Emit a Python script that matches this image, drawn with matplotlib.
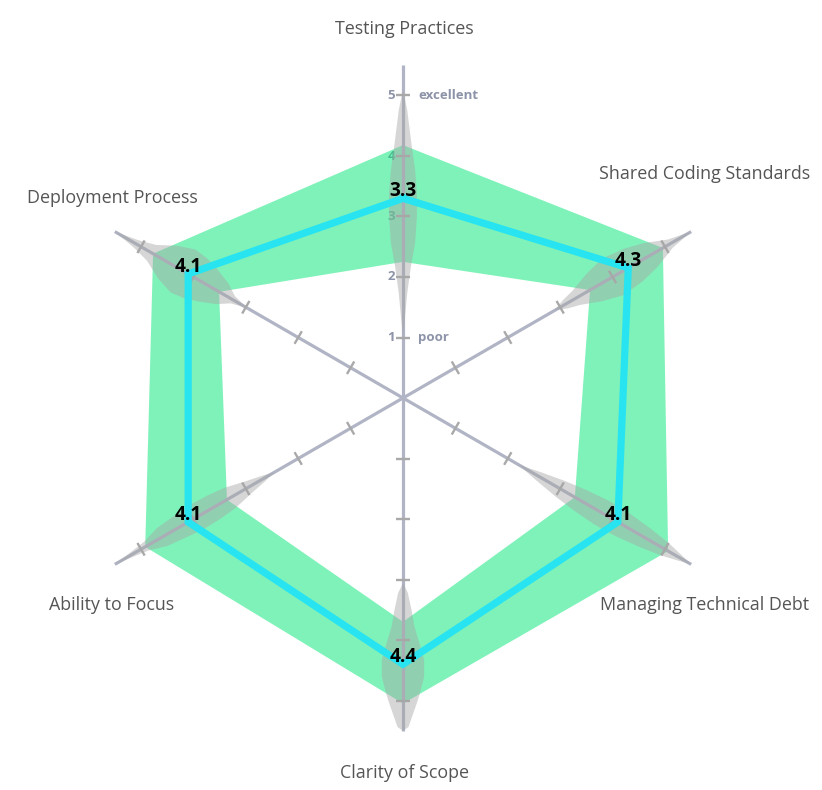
import numpy as np
import matplotlib
matplotlib.use("Agg")
import matplotlib.pyplot as plt
from matplotlib.patches import Polygon, PathPatch
from matplotlib.path import Path

# ---------------- data ----------------
categories = ["Testing Practices", "Shared Coding Standards", "Managing Technical Debt",
              "Clarity of Scope", "Ability to Focus", "Deployment Process"]
angles_deg = [90, 30, -30, -90, -150, 150]
mean_scores = [3.3, 4.3, 4.1, 4.4, 4.1, 4.1]
band_upper = [4.18, 4.96, 5.06, 5.05, 4.92, 4.77]
band_lower = [2.25, 3.57, 3.28, 3.70, 3.36, 3.51]
radial_ticks = [1, 2, 3, 4, 5]
radial_tick_text = {1: "poor", 5: "excellent"}
r_max = 5.5

# violin profiles: positions along the axis and half-widths (score units)
violin_r = [
    [1.0, 1.3, 1.73, 2.17, 2.56, 3.0, 3.4, 3.77, 4.2, 4.76, 5.1],
    [2.9, 3.1, 3.3, 3.65, 4.0, 4.4, 4.72, 5.1, 5.5],
    [2.2, 2.6, 3.0, 3.4, 3.8, 4.2, 4.6, 5.0, 5.3, 5.5],
    [3.06, 3.22, 3.5, 3.78, 4.05, 4.33, 4.61, 4.88, 5.04, 5.21, 5.44, 5.5],
    [2.45, 2.65, 2.95, 3.3, 3.6, 3.95, 4.3, 4.6, 4.9, 5.2, 5.5],
    [2.98, 3.25, 3.45, 3.7, 3.95, 4.2, 4.5, 4.8, 5.1, 5.5],
]
violin_w = [
    [0, 0.03, 0.07, 0.13, 0.20, 0.23, 0.23, 0.20, 0.14, 0.07, 0],
    [0, 0.08, 0.13, 0.26, 0.35, 0.31, 0.23, 0.08, 0],
    [0, 0.08, 0.15, 0.20, 0.23, 0.22, 0.18, 0.12, 0.05, 0],
    [0, 0.08, 0.14, 0.19, 0.27, 0.35, 0.35, 0.28, 0.23, 0.17, 0.09, 0],
    [0, 0.05, 0.11, 0.19, 0.22, 0.23, 0.20, 0.17, 0.08, 0.04, 0],
    [0, 0.07, 0.20, 0.30, 0.38, 0.41, 0.31, 0.15, 0.07, 0],
]

# category label positions (score units, x/y)
label_xy = [(0.02, 6.10), (4.99, 3.71), (4.99, -3.42), (0.02, -6.20), (-4.81, -3.42), (-4.81, 3.31)]

# ---------------- styles ----------------
GREEN = "#00E676"
CYAN = "#28E4F0"
AXIS_C = "#b0b4c4"
TICK_C = "#a9a9a9"
TXT_C = "#8d93a8"
FONT = "Open Sans"

fig = plt.figure(figsize=(8.22, 7.90), dpi=100)
ax = fig.add_axes([0, 0, 1, 1])
ax.set_xlim(-403 / 60.5, (822 - 403) / 60.5)
ax.set_ylim((398 - 790) / 60.5, 398 / 60.5)
ax.axis("off")

th = np.radians(angles_deg)
ux, uy = np.cos(th), np.sin(th)


def xy(r, i):
    r = np.asarray(r, dtype=float)
    return r * ux[i], r * uy[i]


# radial tick labels (top axis), under the band
for t in radial_ticks:
    ax.text(-0.13, t, str(t), ha="right", va="center", fontsize=9.5,
            fontweight="bold", color=TXT_C, family=FONT, zorder=1)
    if t in radial_tick_text:
        ax.text(0.25, t, radial_tick_text[t], ha="left", va="center", fontsize=9.5,
                fontweight="bold", color=TXT_C, family=FONT, zorder=1)

# green band (upper polygon minus lower polygon)
n = len(categories)
outer = [xy(band_upper[i], i) for i in range(n)]
inner = [xy(band_lower[i], i) for i in range(n)]
outer_ring = np.array(outer + [outer[0]])
inner_ring = np.array(inner + [inner[0]])[::-1]
verts = np.vstack([outer_ring, inner_ring])
codes = ([Path.MOVETO] + [Path.LINETO] * (len(outer_ring) - 2) + [Path.CLOSEPOLY] +
         [Path.MOVETO] + [Path.LINETO] * (len(inner_ring) - 2) + [Path.CLOSEPOLY])
ax.add_patch(PathPatch(Path(verts, codes), facecolor=GREEN, alpha=0.5, lw=0, zorder=2))

# axes and ticks
for i in range(n):
    x1, y1 = xy(r_max, i)
    ax.plot([0, x1], [0, y1], color=AXIS_C, lw=2.3, zorder=3, solid_capstyle="butt")
    px, py = -uy[i], ux[i]
    for t in radial_ticks:
        cx, cy = xy(t, i)
        h = 0.12
        ax.plot([cx - h * px, cx + h * px], [cy - h * py, cy + h * py],
                color=TICK_C, lw=1.7, zorder=3, solid_capstyle="butt")

# violins
for i in range(n):
    r = np.asarray(violin_r[i])
    w = np.asarray(violin_w[i])
    px, py = -uy[i], ux[i]
    cx, cy = xy(r, i)
    left = np.column_stack([cx + w * px, cy + w * py])
    right = np.column_stack([cx - w * px, cy - w * py])[::-1]
    ax.add_patch(Polygon(np.vstack([left, right]), closed=True, facecolor="#a6a6a6",
                         alpha=0.45, lw=0, zorder=4))

# mean line
mx = [xy(mean_scores[i], i)[0] for i in range(n)] + [xy(mean_scores[0], 0)[0]]
my = [xy(mean_scores[i], i)[1] for i in range(n)] + [xy(mean_scores[0], 0)[1]]
ax.plot(mx, my, color=CYAN, lw=5.2, zorder=5, solid_joinstyle="miter")

# value labels
for i in range(n):
    x0, y0 = xy(mean_scores[i], i)
    ax.text(x0, y0 + 0.12, f"{mean_scores[i]:.1f}", ha="center", va="center",
            fontsize=13.8, fontweight="bold", color="black", family=FONT, zorder=6)

# category labels
for (lx, ly), name in zip(label_xy, categories):
    ax.text(lx, ly, name, ha="center", va="center", fontsize=12.9, color="#555555",
            family=FONT, zorder=6)

fig.savefig("out.png", dpi=100)
